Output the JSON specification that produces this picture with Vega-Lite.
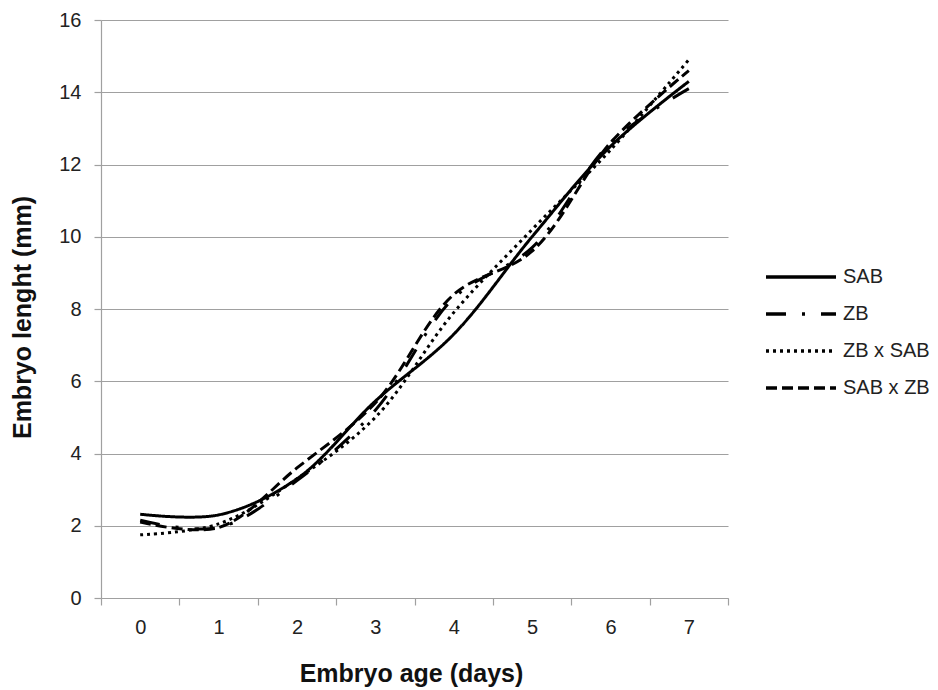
{
  "$schema": "https://vega.github.io/schema/vega-lite/v6.json",
  "width": 627,
  "height": 578,
  "autosize": {"type": "none"},
  "padding": {"left": 101, "top": 20, "right": 210, "bottom": 92},
  "background": "white",
  "config": {
    "font": "Liberation Sans",
    "view": {"stroke": null},
    "axis": {
      "labelFont": "Liberation Sans",
      "titleFont": "Liberation Sans",
      "labelFontSize": 20,
      "labelColor": "#222222",
      "titleFontSize": 25,
      "titleFontWeight": "bold",
      "titleColor": "#111111",
      "domainColor": "#a0a0a0",
      "tickColor": "#a0a0a0",
      "gridColor": "#a0a0a0",
      "gridWidth": 1.2,
      "domainWidth": 1.2,
      "tickWidth": 1.2,
      "tickSize": 7
    },
    "legend": {
      "labelFont": "Liberation Sans",
      "labelFontSize": 20,
      "labelColor": "#222222"
    }
  },
  "data": {
    "values": [
      {"series": "SAB", "day": "0", "length": 2.32},
      {"series": "SAB", "day": "1", "length": 2.3},
      {"series": "SAB", "day": "2", "length": 3.3},
      {"series": "SAB", "day": "3", "length": 5.45},
      {"series": "SAB", "day": "4", "length": 7.3},
      {"series": "SAB", "day": "5", "length": 10.0},
      {"series": "SAB", "day": "6", "length": 12.5},
      {"series": "SAB", "day": "7", "length": 14.3},
      {"series": "ZB", "day": "0", "length": 2.15},
      {"series": "ZB", "day": "1", "length": 1.95},
      {"series": "ZB", "day": "2", "length": 3.25},
      {"series": "ZB", "day": "3", "length": 5.2},
      {"series": "ZB", "day": "4", "length": 8.3},
      {"series": "ZB", "day": "5", "length": 9.7},
      {"series": "ZB", "day": "6", "length": 12.6},
      {"series": "ZB", "day": "7", "length": 14.1},
      {"series": "ZB x SAB", "day": "0", "length": 1.75},
      {"series": "ZB x SAB", "day": "1", "length": 2.05},
      {"series": "ZB x SAB", "day": "2", "length": 3.3},
      {"series": "ZB x SAB", "day": "3", "length": 5.0},
      {"series": "ZB x SAB", "day": "4", "length": 7.9},
      {"series": "ZB x SAB", "day": "5", "length": 10.2},
      {"series": "ZB x SAB", "day": "6", "length": 12.4},
      {"series": "ZB x SAB", "day": "7", "length": 14.9},
      {"series": "SAB x ZB", "day": "0", "length": 2.1},
      {"series": "SAB x ZB", "day": "1", "length": 1.95},
      {"series": "SAB x ZB", "day": "2", "length": 3.6},
      {"series": "SAB x ZB", "day": "3", "length": 5.4},
      {"series": "SAB x ZB", "day": "4", "length": 8.4},
      {"series": "SAB x ZB", "day": "5", "length": 9.6},
      {"series": "SAB x ZB", "day": "6", "length": 12.6},
      {"series": "SAB x ZB", "day": "7", "length": 14.6}
    ]
  },
  "mark": {"type": "line", "interpolate": "catmull-rom", "color": "black", "strokeWidth": 3},
  "encoding": {
    "x": {
      "field": "day",
      "type": "ordinal",
      "bandPosition": 0.5,
      "scale": {"type": "band", "paddingInner": 0, "paddingOuter": 0},
      "axis": {
        "title": "Embryo age (days)",
        "labelAngle": 0,
        "tickBand": "extent",
        "grid": false,
        "labelPadding": 12,
        "titleX": 310,
        "titleY": 75,
        "titleBaseline": "middle",
        "titleAnchor": "middle"
      }
    },
    "y": {
      "field": "length",
      "type": "quantitative",
      "scale": {"domain": [0, 16], "nice": false, "zero": true},
      "axis": {
        "title": "Embryo lenght (mm)",
        "values": [0, 2, 4, 6, 8, 10, 12, 14, 16],
        "labelPadding": 13,
        "titleX": -79,
        "titleY": 297,
        "titleAngle": -90,
        "titleBaseline": "middle",
        "titleAlign": "center"
      }
    },
    "strokeDash": {
      "field": "series",
      "type": "nominal",
      "scale": {
        "domain": ["SAB", "ZB", "ZB x SAB", "SAB x ZB"],
        "range": [[1, 0], [20, 16, 3, 16], [3, 4], [11, 5]]
      },
      "legend": {
        "title": null,
        "orient": "none",
        "legendX": 690,
        "legendY": 247,
        "padding": 0,
        "symbolType": "M-7,0H7",
        "symbolSize": 100,
        "symbolStrokeWidth": 3.5,
        "symbolStrokeColor": "black",
        "labelOffset": 32,
        "rowPadding": 17
      }
    }
  }
}
